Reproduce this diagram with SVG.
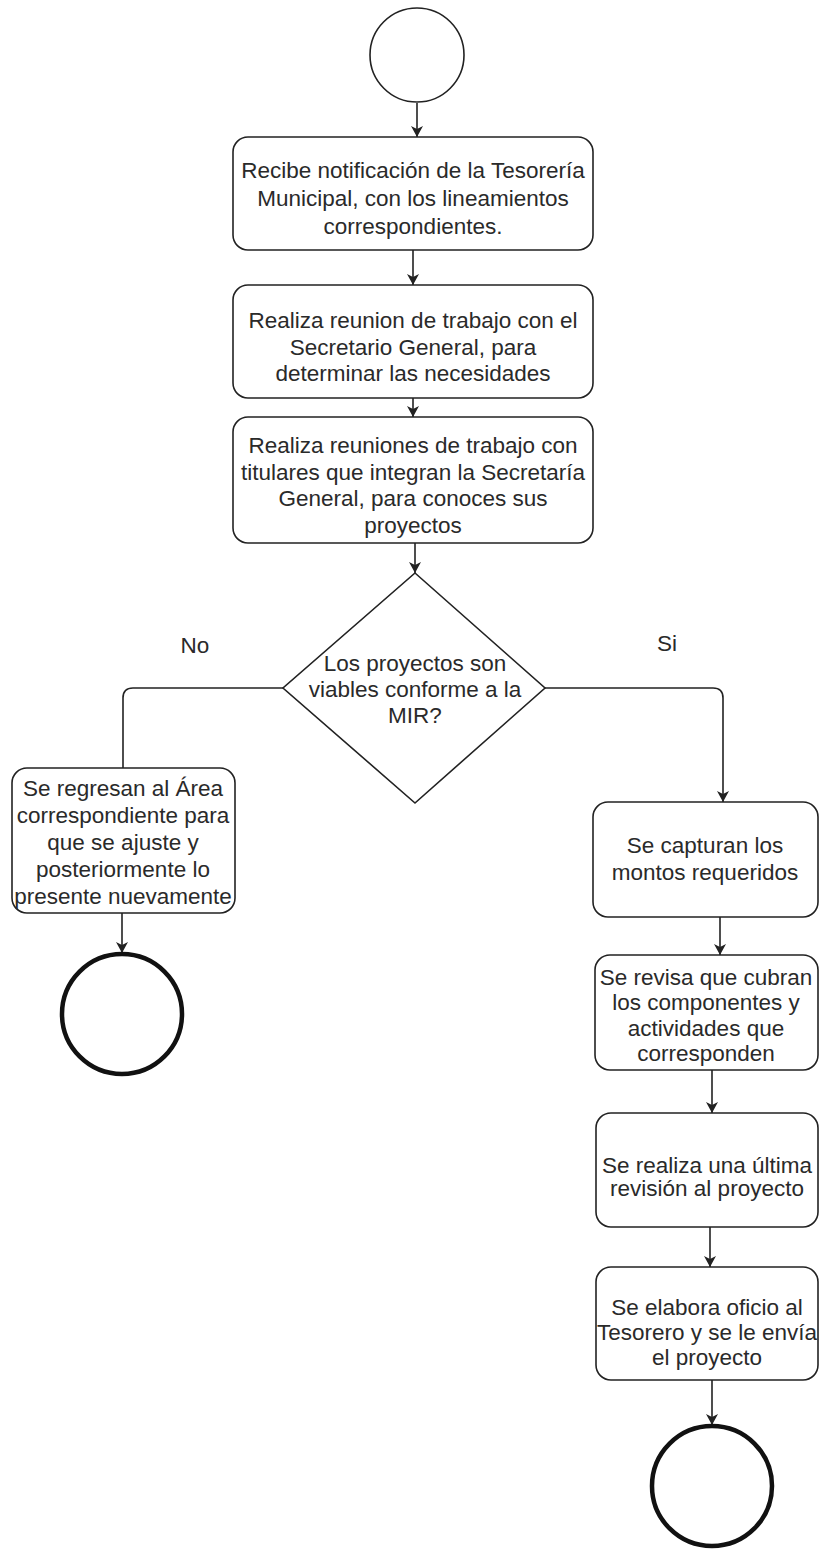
<svg xmlns="http://www.w3.org/2000/svg" width="819" height="1549" viewBox="0 0 819 1549">
<style>
.box{fill:#fff;stroke:#222;stroke-width:1.6}
.start{fill:#fff;stroke:#222;stroke-width:1.6}
.end{fill:#fff;stroke:#111;stroke-width:4.5}
.edge{fill:none;stroke:#222;stroke-width:1.6}
text{font-family:"Liberation Sans",Arial,sans-serif;font-size:22.5px;fill:#2a2a2a;text-anchor:middle}
</style>
<defs>
<marker id="arr" markerUnits="userSpaceOnUse" markerWidth="12" markerHeight="12" refX="11" refY="6" orient="auto">
<path d="M0,0 L11,6 L0,12 L3,6 z" fill="#222"/>
</marker>
</defs>
<rect width="819" height="1549" fill="#fff"/>
<g id="connectors">
<line class="edge" x1="417" y1="103" x2="417" y2="137" marker-end="url(#arr)"/>
<line class="edge" x1="413" y1="250" x2="413" y2="285" marker-end="url(#arr)"/>
<line class="edge" x1="413" y1="398" x2="413" y2="417" marker-end="url(#arr)"/>
<line class="edge" x1="415" y1="543" x2="415" y2="573" marker-end="url(#arr)"/>
<path class="edge" d="M283,688 L133,688 Q123,688 123,698 L123,768"/>
<path class="edge" d="M545,688 L713,688 Q723,688 723,698 L723,802" marker-end="url(#arr)"/>
<line class="edge" x1="122" y1="913" x2="122" y2="953" marker-end="url(#arr)"/>
<line class="edge" x1="720" y1="917" x2="720" y2="955" marker-end="url(#arr)"/>
<line class="edge" x1="712" y1="1070" x2="712" y2="1113" marker-end="url(#arr)"/>
<line class="edge" x1="710" y1="1227" x2="710" y2="1267" marker-end="url(#arr)"/>
<line class="edge" x1="712" y1="1380" x2="712" y2="1425" marker-end="url(#arr)"/>
</g>
<g id="start"><circle class="start" cx="417" cy="55" r="47"/></g>
<g id="n1">
<rect class="box" x="233" y="137" width="360" height="113" rx="15"/>
<text x="413" y="178">Recibe notificación de la Tesorería</text>
<text x="413" y="206">Municipal, con los lineamientos</text>
<text x="413" y="234">correspondientes.</text>
</g>
<g id="n2">
<rect class="box" x="233" y="285" width="360" height="113" rx="15"/>
<text x="413" y="328">Realiza reunion de trabajo con el</text>
<text x="413" y="355">Secretario General, para</text>
<text x="413" y="381">determinar las necesidades</text>
</g>
<g id="n3">
<rect class="box" x="233" y="417" width="360" height="126" rx="15"/>
<text x="413" y="453">Realiza reuniones de trabajo con</text>
<text x="413" y="480">titulares que integran la Secretaría</text>
<text x="413" y="506">General, para conoces sus</text>
<text x="413" y="533">proyectos</text>
</g>
<g id="decision">
<polygon class="box" points="415,573 545,688 415,803 283,688"/>
<text x="415" y="671">Los proyectos son</text>
<text x="415" y="697">viables conforme a la</text>
<text x="415" y="723">MIR?</text>
</g>
<g id="label-no"><text x="195" y="653">No</text></g>
<g id="label-si"><text x="667" y="651">Si</text></g>
<g id="n-no">
<rect class="box" x="12" y="768" width="223" height="145" rx="15"/>
<text x="123" y="796">Se regresan al Área</text>
<text x="123" y="823">correspondiente para</text>
<text x="123" y="850">que se ajuste y</text>
<text x="123" y="877">posteriormente lo</text>
<text x="123" y="904">presente nuevamente</text>
</g>
<g id="end-no"><circle class="end" cx="122" cy="1014" r="60"/></g>
<g id="s1">
<rect class="box" x="593" y="802" width="225" height="115" rx="15"/>
<text x="705" y="853">Se capturan los</text>
<text x="705" y="880">montos requeridos</text>
</g>
<g id="s2">
<rect class="box" x="595" y="955" width="223" height="115" rx="15"/>
<text x="706" y="985">Se revisa que cubran</text>
<text x="706" y="1010">los componentes y</text>
<text x="706" y="1036">actividades que</text>
<text x="706" y="1061">corresponden</text>
</g>
<g id="s3">
<rect class="box" x="596" y="1113" width="222" height="114" rx="15"/>
<text x="707" y="1173">Se realiza una última</text>
<text x="707" y="1196">revisión al proyecto</text>
</g>
<g id="s4">
<rect class="box" x="596" y="1267" width="222" height="113" rx="15"/>
<text x="707" y="1315">Se elabora oficio al</text>
<text x="707" y="1340">Tesorero y se le envía</text>
<text x="707" y="1365">el proyecto</text>
</g>
<g id="end-si"><circle class="end" cx="712" cy="1486" r="60"/></g>
</svg>
